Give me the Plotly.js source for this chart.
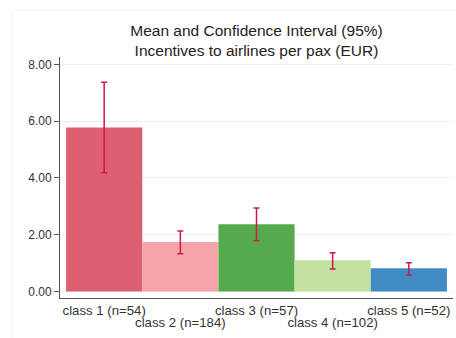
<!DOCTYPE html>
<html>
<head>
<meta charset="utf-8">
<script src="https://cdn.plot.ly/plotly-3.0.1.min.js"></script>
<style>
  html, body { margin: 0; padding: 0; background: #fff; }
  #chart { width: 456px; height: 338px; }
</style>
</head>
<body>
<div id="chart"></div>
<script>
// Mean incentive per passenger by class, with 95% confidence bounds
const classes = ["class 1 (n=54)", "class 2 (n=184)", "class 3 (n=57)", "class 4 (n=102)", "class 5 (n=52)"];
const means   = [5.78, 1.74, 2.37, 1.10, 0.82];
const ciLow   = [4.18, 1.33, 1.79, 0.79, 0.58];
const ciHigh  = [7.37, 2.13, 2.94, 1.36, 1.01];
const barColors = ["#dc5f72", "#f5a5aa", "#55ab4b", "#c3e1a0", "#418cc5"];
const yTicks = [0, 2, 4, 6, 8];

const positions = classes.map((_, i) => i + 1);
// Labels alternate between two rows: odd classes on the main axis,
// even classes on a matched overlay axis pushed further down
const oddPos = positions.filter((_, i) => i % 2 === 0);
const oddTxt = classes.filter((_, i) => i % 2 === 0);
const evenPos = positions.filter((_, i) => i % 2 === 1);
const evenTxt = classes.filter((_, i) => i % 2 === 1);

const trace = {
  type: "bar",
  x: positions,
  y: means,
  width: 1,
  marker: { color: barColors, line: { width: 0 } },
  error_y: {
    type: "data",
    symmetric: false,
    array: ciHigh.map((h, i) => h - means[i]),
    arrayminus: means.map((m, i) => m - ciLow[i]),
    color: "#d3164e",
    thickness: 1.5,
    width: 3
  },
  hoverinfo: "skip"
};

// Invisible companion trace so the second label row has data on its axis
const rowTwo = {
  type: "scatter",
  mode: "markers",
  x: evenPos,
  y: evenPos.map(() => 0),
  xaxis: "x2",
  marker: { opacity: 0 },
  hoverinfo: "skip"
};

const labelFont = { size: 13.2, color: "#333" };

const layout = {
  width: 456,
  height: 338,
  margin: { l: 60, r: 3, t: 57, b: 40 },
  paper_bgcolor: "#ffffff",
  plot_bgcolor: "#ffffff",
  font: { family: "Liberation Sans, Arial, sans-serif", color: "#333", size: 12 },
  showlegend: false,
  title: {
    text: "Mean and Confidence Interval (95%)<br>Incentives to airlines per pax (EUR)",
    font: { size: 15.5, color: "#222" },
    x: 0.5625,
    xanchor: "center",
    y: 0.894,
    yanchor: "middle"
  },
  xaxis: {
    range: [0.42, 5.58],
    tickvals: oddPos,
    ticktext: oddTxt,
    showgrid: false,
    zeroline: false,
    showline: true,
    linecolor: "#555",
    linewidth: 1,
    ticks: "",
    ticklabelstandoff: 0,
    tickfont: labelFont,
    fixedrange: true
  },
  xaxis2: {
    overlaying: "x",
    matches: "x",
    anchor: "y",
    side: "bottom",
    tickvals: evenPos,
    ticktext: evenTxt,
    showgrid: false,
    zeroline: false,
    showline: false,
    ticks: "",
    ticklabelstandoff: 15,
    tickfont: labelFont,
    fixedrange: true
  },
  yaxis: {
    range: [-0.23, 8.26],
    tickvals: yTicks,
    ticktext: yTicks.map(v => v.toFixed(2)),
    showgrid: true,
    gridcolor: "#f0f0f0",
    gridwidth: 1,
    zeroline: false,
    showline: true,
    linecolor: "#555",
    linewidth: 1,
    ticks: "outside",
    ticklen: 5,
    tickcolor: "#555",
    tickfont: { size: 12, color: "#333" },
    fixedrange: true
  },
  shapes: [{
    type: "rect",
    xref: "paper", yref: "paper",
    x0: -0.122, x1: 1.02, y0: -0.215, y1: 1.195,
    line: { color: "#f2f2f2", width: 1 },
    fillcolor: "rgba(0,0,0,0)",
    layer: "below"
  }]
};

Plotly.newPlot("chart", [trace, rowTwo], layout, { displayModeBar: false, staticPlot: true });
</script>
</body>
</html>
